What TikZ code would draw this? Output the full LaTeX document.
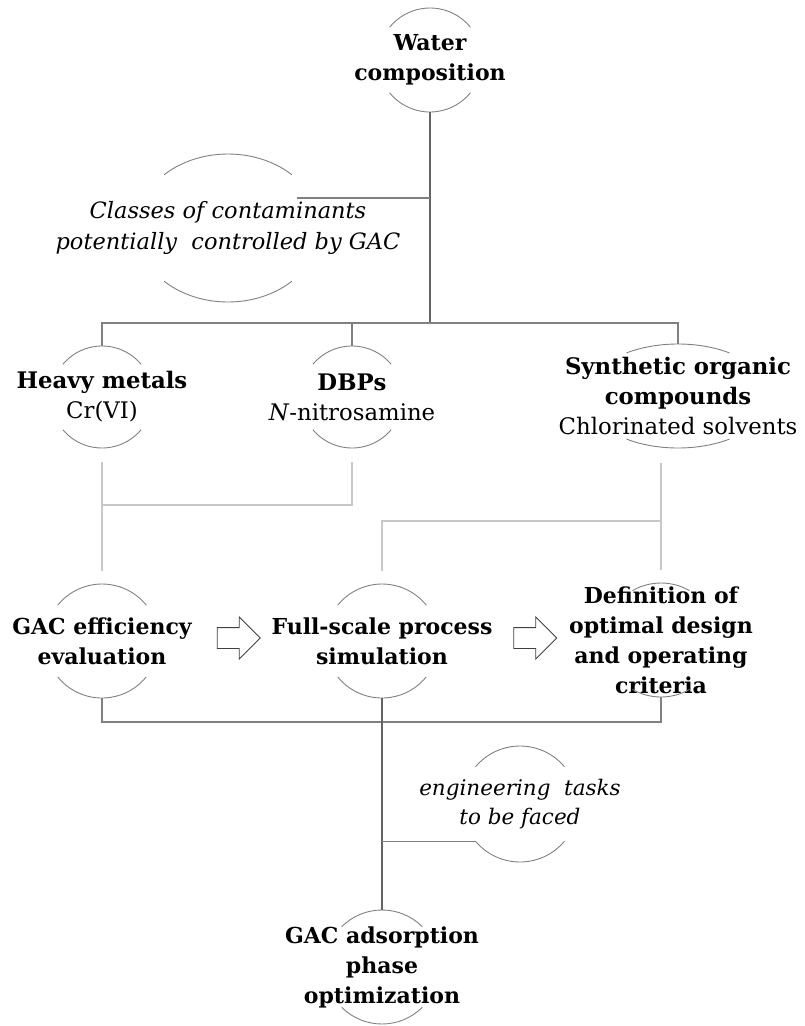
\documentclass[tikz,border=0pt]{standalone}
\usepackage{fontspec}
\setmainfont{DejaVu Serif}
\usetikzlibrary{shapes.geometric,shapes.arrows}

\definecolor{ringgray}{RGB}{128,128,128}
\definecolor{trunkgray}{RGB}{100,100,100}
\definecolor{paleline}{RGB}{200,200,200}

% half-open ring round a label: name, at, x radius, y radius, arc start angle
\newcommand{\holering}[5]{%
  \node[spot,minimum width={2*#3pt},minimum height={2*#4pt}] (#1) at (#2) {};
  \draw[ring] ([shift={(#5:#3pt and #4pt)}]#1.center) arc[start angle=#5,end angle={180-#5},x radius=#3pt,y radius=#4pt];
  \draw[ring] ([shift={({180+#5}:#3pt and #4pt)}]#1.center) arc[start angle={180+#5},end angle={360-#5},x radius=#3pt,y radius=#4pt];}

\begin{document}
\begin{tikzpicture}[x=1pt,y=1pt,
  every node/.style={inner sep=0pt,outer sep=0pt},
  hub/.style={align=center,font=\fontsize{22}{30}\selectfont\bfseries},
  kind/.style={align=center,font=\fontsize{22.8}{30}\selectfont},
  note/.style={align=center,font=\fontsize{22.5}{31}\selectfont\itshape},
  spot/.style={ellipse,draw=none},
  ring/.style={draw=ringgray,line width=0.9pt},
  trunk/.style={draw=trunkgray,line width=2pt},
  bus/.style={draw=ringgray,line width=1.3pt},
  pale/.style={draw=paleline,line width=1.2pt},
  hollow/.style={single arrow,draw=black!75,line width=0.8pt,minimum height=43pt,
    single arrow head extend=10.5pt,inner ysep=10pt,inner xsep=0pt}]
\useasboundingbox (0,0) rectangle (805,-1026);

% labels
\node[hub] (wc) at (430,-60) {Water\\composition};
\node[note] (cl) at (228,-228) {Classes of contaminants\\potentially~ controlled by GAC};
\node[kind] (hm) at (102,-397) {\textbf{Heavy metals}\\Cr(VI)};
\node[kind] (db) at (352,-397) {\textbf{DBPs}\\\textit{N}-nitrosamine};
\node[kind] (so) at (678,-396) {\textbf{Synthetic organic}\\\textbf{compounds}\\Chlorinated solvents};
\node[hub] (ge) at (102,-641) {GAC efficiency\\evaluation};
\node[hub] (fs) at (382,-641) {Full-scale process\\simulation};
\node[hub] (df) at (661,-640) {Definition of\\optimal design\\and operating\\criteria};
\node[note,font=\fontsize{21.5}{29}\selectfont\itshape] (en) at (520,-804) {engineering~ tasks\\to be faced};
\node[hub] (ad) at (382,-967) {GAC adsorption\\phase\\optimization};

% rings
\holering{wcR}{wc}{52}{52}{39}
\holering{clR}{cl}{92}{74}{46}
\holering{hmR}{hm}{51}{51}{40}
\holering{dbR}{db}{51}{51}{40}
\holering{soR}{so}{92}{52}{56}
\holering{geR}{ge}{57}{57}{39}
\holering{fsR}{fs}{57}{57}{39}
\holering{dfR}{df}{57}{57}{60}
\holering{enR}{en}{58}{58}{40}
\holering{adR}{ad}{57}{57}{45}

% top tree
\coordinate (split) at (wcR.south |- 0,-323);
\draw[trunk] (wcR.south) -- (split);
\coordinate (clTip) at ([xshift=69pt,yshift=30pt]clR.center);
\draw[bus] (clTip) -- (clTip -| wcR.south);
\draw[bus] (hmR.north) |- (split) -| (soR.north);
\draw[bus] (dbR.north) -- (dbR.north |- split);

% pale links
\coordinate (hmJ) at ([yshift=-57pt]hmR.south);
\coordinate (soJ) at ([yshift=62pt]dfR.north);
\draw[pale,shorten <=14pt,shorten >=13pt] (hmR.south) -- (geR.north);
\draw[pale,shorten <=14pt] (dbR.south) |- (hmJ);
\draw[pale,shorten <=13pt] (fsR.north) |- (soJ);
\draw[pale,shorten <=13pt,shorten >=15pt] (dfR.north) -- (dfR.north |- soR.south);

% steps
\node[hollow] (ar1) at (233.5,-638) {};
\node[hollow] (ar2) at (530,-638) {};

% bottom tree
\coordinate (low) at ([yshift=-24pt]fsR.south);
\draw[bus] (geR.south) |- (low) -| (dfR.south);
\draw[trunk] (fsR.south) -- (adR.north);
\coordinate (enTip) at ([shift={(220:58pt and 58pt)}]enR.center);
\draw[bus] (enTip) -- (enTip -| fsR.south);
\end{tikzpicture}
\end{document}
